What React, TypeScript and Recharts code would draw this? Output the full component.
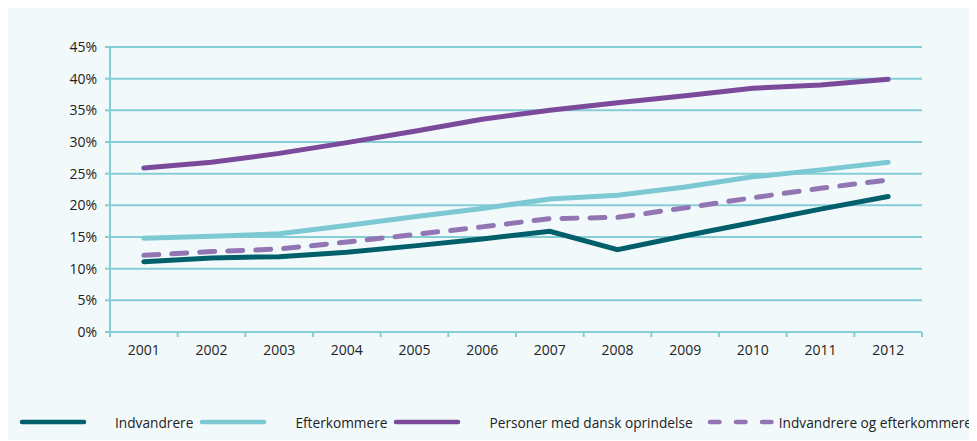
import React from "react";
import {
  LineChart,
  Line,
  XAxis,
  YAxis,
  CartesianGrid,
  Legend,
} from "recharts";

const years = ["2001", "2002", "2003", "2004", "2005", "2006", "2007", "2008", "2009", "2010", "2011", "2012"];
const indvandrere = [11.1, 11.7, 11.9, 12.6, 13.6, 14.7, 15.9, 13.0, 15.2, 17.3, 19.4, 21.4];
const efterkommere = [14.8, 15.1, 15.5, 16.8, 18.2, 19.5, 21.0, 21.6, 22.9, 24.5, 25.6, 26.8];
const danskOprindelse = [25.9, 26.8, 28.2, 29.9, 31.7, 33.6, 35.0, 36.2, 37.3, 38.5, 39.0, 39.9];
const indvOgEfterk = [12.1, 12.7, 13.1, 14.2, 15.4, 16.6, 17.9, 18.1, 19.6, 21.2, 22.7, 24.0];
const yTicks = [0, 5, 10, 15, 20, 25, 30, 35, 40, 45];

const seriesNames = [
  "Indvandrere",
  "Efterkommere",
  "Personer med dansk oprindelse",
  "Indvandrere og efterkommere",
];

const data = years.map((year, i) => ({
  year,
  indv: indvandrere[i],
  efterk: efterkommere[i],
  dansk: danskOprindelse[i],
  begge: indvOgEfterk[i],
}));

const FONT = "'Open Sans', 'Noto Sans', sans-serif";
const GRID = "#86cdd6";
const TEXT = "#222";

const colors = {
  indv: "#005f6b",
  efterk: "#7cc9d3",
  dansk: "#7c4a9b",
  begge: "#9276b4",
};

function YearTick(props: any) {
  const { x, y, payload, index, width } = props;
  const bw = width / years.length;
  const axisY = y - 13;
  return (
    <g>
      <line x1={x - bw / 2} y1={axisY} x2={x - bw / 2} y2={axisY + 5} stroke={GRID} strokeWidth={2} />
      {index === years.length - 1 && (
        <line x1={x + bw / 2} y1={axisY} x2={x + bw / 2} y2={axisY + 5} stroke={GRID} strokeWidth={2} />
      )}
      <text x={x} y={y} dy="0.71em" textAnchor="middle" fill={TEXT} fontSize={14} fontFamily={FONT}>
        {payload.value}
      </text>
    </g>
  );
}

function LegendSymbol({ color, dashed }: { color: string; dashed?: boolean }) {
  // dashed symbol is a bit wider so three whole dashes fit
  const w = dashed ? 76 : 68;
  return (
    <svg width={w} height={10} style={{ display: "block" }}>
      <line
        x1={dashed ? 11 : 3}
        y1={5}
        x2={dashed ? 73 : 65}
        y2={5}
        stroke={color}
        strokeWidth={4.5}
        strokeLinecap="round"
        strokeDasharray={dashed ? "9.5 16.5" : undefined}
      />
    </svg>
  );
}

function ChartLegend() {
  const items = [
    { color: colors.indv, gap: 28 },
    { color: colors.efterk, gap: 28 },
    { color: colors.dansk, gap: 28 },
    { color: colors.begge, gap: 4, dashed: true },
  ];
  return (
    <div
      style={{
        display: "flex",
        alignItems: "center",
        height: 20,
        fontFamily: FONT,
        fontSize: 13.7,
        color: TEXT,
        whiteSpace: "nowrap",
      }}
    >
      {items.map((it, i) => (
        <React.Fragment key={i}>
          <LegendSymbol color={it.color} dashed={it.dashed} />
          <span style={{ marginLeft: it.gap, marginRight: 6 }}>{seriesNames[i]}</span>
        </React.Fragment>
      ))}
    </div>
  );
}

export default function App() {
  return (
    <div style={{ width: 969, height: 432, background: "#f2f9fb", overflow: "hidden" }}>
      <LineChart
        width={969}
        height={432}
        data={data}
        margin={{ top: 39, right: 55, bottom: 58, left: 42 }}
      >
        <CartesianGrid vertical={false} stroke={GRID} strokeWidth={2} />
        <XAxis
          dataKey="year"
          scale="band"
          axisLine={{ stroke: GRID, strokeWidth: 2 }}
          tickLine={false}
          tickSize={5}
          tickMargin={8}
          tick={<YearTick />}
          interval={0}
          height={30}
        />
        <YAxis
          domain={[0, 45]}
          ticks={yTicks}
          width={60}
          tickFormatter={(v: number) => `${v}%`}
          axisLine={{ stroke: GRID, strokeWidth: 2 }}
          tickLine={{ stroke: GRID, strokeWidth: 2 }}
          tickSize={5}
          tickMargin={8}
          tick={{ fill: TEXT, fontSize: 14, fontFamily: FONT }}
          interval={0}
        />
        <Legend
          verticalAlign="bottom"
          content={<ChartLegend />}
          wrapperStyle={{ top: 404, bottom: "auto", left: 11, width: 980 }}
        />
        <Line type="linear" dataKey="indv" name={seriesNames[0]} stroke={colors.indv} strokeWidth={5} strokeLinecap="round" dot={false} isAnimationActive={false} />
        <Line type="linear" dataKey="efterk" name={seriesNames[1]} stroke={colors.efterk} strokeWidth={5} strokeLinecap="round" dot={false} isAnimationActive={false} />
        <Line type="linear" dataKey="dansk" name={seriesNames[2]} stroke={colors.dansk} strokeWidth={5} strokeLinecap="round" dot={false} isAnimationActive={false} />
        <Line type="linear" dataKey="begge" name={seriesNames[3]} stroke={colors.begge} strokeWidth={5} strokeLinecap="round" strokeDasharray="15 13" dot={false} isAnimationActive={false} />
      </LineChart>
    </div>
  );
}
